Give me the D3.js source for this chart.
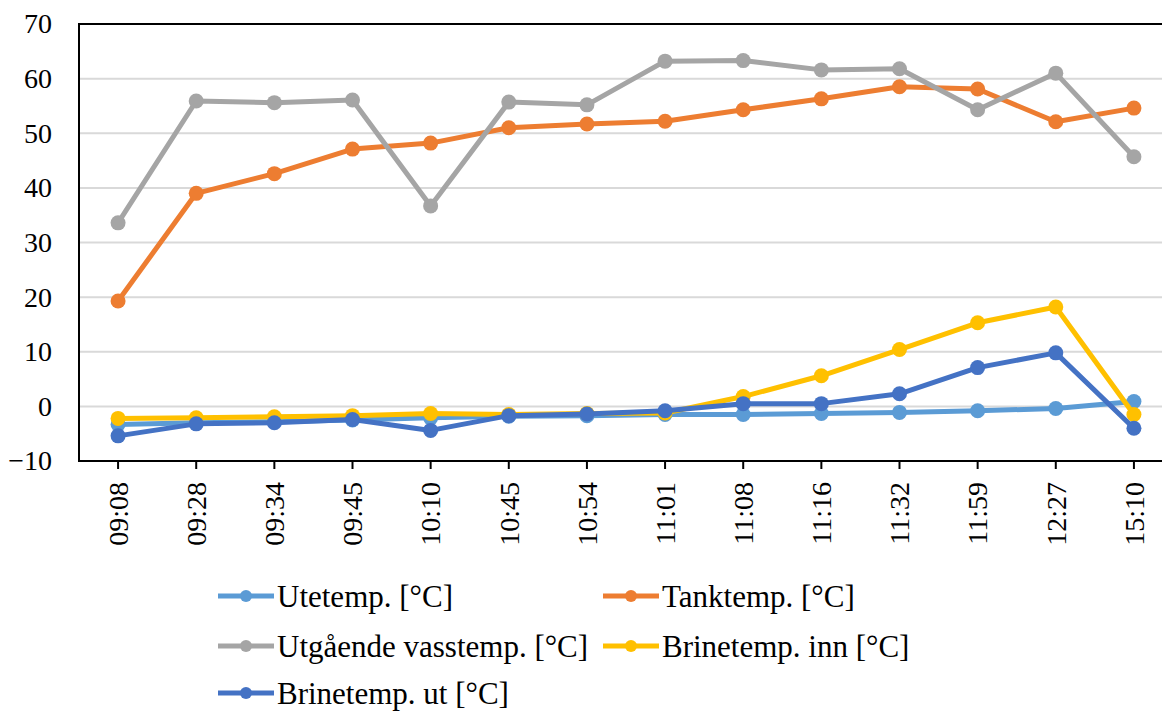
<!DOCTYPE html>
<html lang="no">
<head>
  <meta charset="UTF-8">
  <title>Temperaturer</title>
  <script src="https://d3js.org/d3.v7.min.js"></script>
  <style>
    body { margin: 0; background: #fff; }
    svg text { font-family: "Times New Roman", Tinos, "Liberation Serif", "Noto Serif", "DejaVu Serif", serif !important; }
  </style>
</head>
<body>
  <svg width="1162" height="713"></svg>

  <script>
    // categories (klokkeslett)
    const times = ["09:08", "09:28", "09:34", "09:45", "10:10", "10:45", "10:54",
                   "11:01", "11:08", "11:16", "11:32", "11:59", "12:27", "15:10"];

    // series values
    const uteTemp   = [-3.3, -3.0, -2.8, -2.5, -2.1, -1.8, -1.7, -1.5, -1.5, -1.3, -1.1, -0.8, -0.4, 0.9];
    const tankTemp  = [19.3, 39.0, 42.6, 47.1, 48.2, 51.0, 51.7, 52.2, 54.3, 56.3, 58.5, 58.1, 52.1, 54.6];
    const vassTemp  = [33.6, 55.9, 55.6, 56.1, 36.7, 55.7, 55.2, 63.2, 63.3, 61.6, 61.8, 54.3, 61.0, 45.7];
    const brineInn  = [-2.2, -2.1, -1.9, -1.7, -1.3, -1.5, -1.3, -1.2, 1.8, 5.6, 10.4, 15.3, 18.2, -1.5];
    const brineUt   = [-5.4, -3.2, -3.0, -2.4, -4.4, -1.7, -1.4, -0.8, 0.5, 0.5, 2.3, 7.1, 9.8, -4.0];

    const seriesNames = ["Utetemp. [°C]", "Tanktemp. [°C]", "Utgående vasstemp. [°C]",
                         "Brinetemp. inn [°C]", "Brinetemp. ut [°C]"];
    const seriesColors = ["#5B9BD5", "#ED7D31", "#A5A5A5", "#FFC000", "#4472C4"];
    const yTicks = [-10, 0, 10, 20, 30, 40, 50, 60, 70];

    const series = [uteTemp, tankTemp, vassTemp, brineInn, brineUt].map((vals, i) => ({
      name: seriesNames[i], color: seriesColors[i], values: vals
    }));

    const svg = d3.select("svg");
    const margin = { left: 79, right: 1173, top: 24, bottom: 461 };

    const x = d3.scaleBand().domain(times).range([margin.left, margin.right]);
    const y = d3.scaleLinear().domain([-10, 70]).range([margin.bottom, margin.top]);

    // gridlines
    svg.append("g")
      .selectAll("line")
      .data(yTicks.filter(d => d > -10 && d < 70))
      .enter().append("line")
      .attr("x1", margin.left).attr("x2", margin.right)
      .attr("y1", d => y(d)).attr("y2", d => y(d))
      .attr("stroke", "#D9D9D9")
      .attr("stroke-width", 2);

    // frame
    svg.append("rect")
      .attr("x", margin.left).attr("y", margin.top)
      .attr("width", margin.right - margin.left).attr("height", margin.bottom - margin.top)
      .attr("fill", "none")
      .attr("stroke", "#000")
      .attr("stroke-width", 2);

    // y axis labels
    svg.append("g")
      .attr("transform", "translate(" + margin.left + ",0)")
      .call(d3.axisLeft(y).tickValues(yTicks).tickSize(0).tickPadding(27))
      .call(g => g.select(".domain").remove())
      .selectAll("text")
      .attr("font-size", "28px")
      .attr("fill", "#000");

    // x axis with rotated labels
    const xAxis = svg.append("g")
      .attr("transform", "translate(0," + margin.bottom + ")")
      .call(d3.axisBottom(x).tickSize(8))
      .call(g => g.select(".domain").remove());
    xAxis.selectAll("line").attr("stroke", "#000").attr("stroke-width", 2);
    xAxis.selectAll("text")
      .attr("font-size", "28px")
      .attr("fill", "#000")
      .attr("transform", "rotate(-90)")
      .attr("text-anchor", "end")
      .attr("x", -21)
      .attr("y", 0)
      .attr("dy", "0.35em");

    // lines and markers
    const line = d3.line()
      .x((d, i) => x(times[i]) + x.bandwidth() / 2)
      .y(d => y(d));

    series.forEach(s => {
      const g = svg.append("g");
      g.append("path")
        .datum(s.values)
        .attr("d", line)
        .attr("fill", "none")
        .attr("stroke", s.color)
        .attr("stroke-width", 5)
        .attr("stroke-linejoin", "round");
      g.selectAll("circle")
        .data(s.values)
        .enter().append("circle")
        .attr("cx", (d, i) => x(times[i]) + x.bandwidth() / 2)
        .attr("cy", d => y(d))
        .attr("r", 7.5)
        .attr("fill", s.color);
    });

    // legend
    const legendPos = [[218, 596], [603, 596], [218, 646], [603, 646], [218, 693]];
    series.forEach((s, i) => {
      const [lx, ly] = legendPos[i];
      const g = svg.append("g").attr("transform", "translate(" + lx + "," + ly + ")");
      g.append("line")
        .attr("x1", 0).attr("x2", 56)
        .attr("y1", 0).attr("y2", 0)
        .attr("stroke", s.color)
        .attr("stroke-width", 5);
      g.append("circle").attr("cx", 28).attr("cy", 0).attr("r", 6).attr("fill", s.color);
      g.append("text")
        .attr("x", 59).attr("y", 0)
        .attr("dy", "0.35em")
        .attr("font-size", "31px")
        .attr("fill", "#000")
        .text(s.name);
    });
  </script>
</body>
</html>
